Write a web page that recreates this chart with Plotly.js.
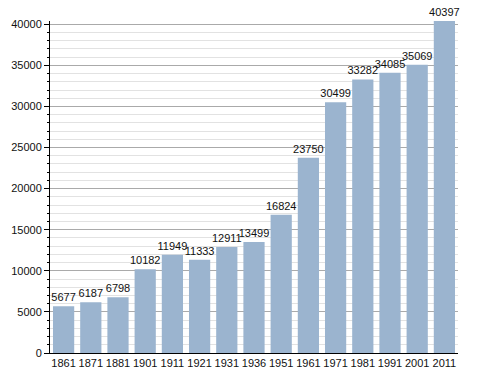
<!DOCTYPE html>
<html><head><meta charset="utf-8">
<script src="https://cdn.plot.ly/plotly-3.0.1.min.js"></script>
<style>html,body{margin:0;padding:0;background:#fff}#chart{width:488px;height:373px}</style>
</head><body><div id="chart"></div>
<script>
const years = ["1861","1871","1881","1901","1911","1921","1931","1936","1951","1961","1971","1981","1991","2001","2011"];
const population = [5677,6187,6798,10182,11949,11333,12911,13499,16824,23750,30499,33282,34085,35069,40397];

Plotly.newPlot('chart', [{
  type: 'bar',
  x: years,
  y: population,
  text: population.map(String),
  textposition: 'outside',
  constraintext: 'none',
  cliponaxis: false,
  textfont: {family: 'Liberation Sans, Arial, sans-serif', size: 11, color: '#111'},
  marker: {color: '#9bb4cf'},
  hoverinfo: 'none'
}], {
  width: 488, height: 373,
  margin: {l: 50, r: 30, t: 21, b: 20, pad: 0},
  paper_bgcolor: '#fff', plot_bgcolor: '#fff',
  bargap: 0.22,
  showlegend: false,
  font: {family: 'Liberation Sans, Arial, sans-serif', size: 11, color: '#111'},
  xaxis: {
    type: 'category', showline: true, linecolor: '#000', linewidth: 1,
    ticks: '', showgrid: false, tickfont: {size: 11}, ticklen: 0
  },
  yaxis: {
    range: [0, 40397], dtick: 5000, tick0: 0, tickformat: 'd',
    showline: true, linecolor: '#000', linewidth: 1,
    ticks: 'outside', ticklen: 5, tickcolor: '#000',
    showgrid: true, gridcolor: '#aaaaaa', gridwidth: 1,
    zeroline: false, tickfont: {size: 11},
    minor: {dtick: 1000, showgrid: true, gridcolor: '#e2e2e2', ticks: 'outside', ticklen: 2, tickcolor: '#000'}
  }
}, {displayModeBar: false, staticPlot: true});
</script></body></html>
